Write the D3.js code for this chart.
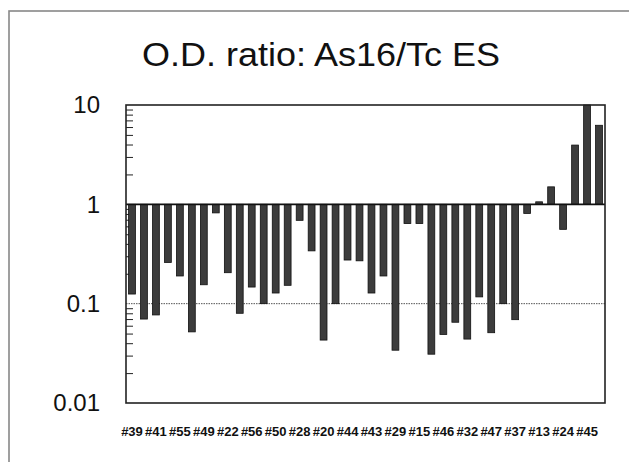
<!DOCTYPE html>
<html>
<head>
<meta charset="utf-8">
<script src="https://cdn.jsdelivr.net/npm/d3@7"></script>
<style>
  body { margin: 0; background: #fff; }
  text { font-family: Arial, "Liberation Sans", sans-serif; fill: #111; }
</style>
</head>
<body>
<div id="container"></div>
<script>
/* CONSTANTS AND GLOBALS */
const width = 629;
const height = 462;
const plot = { left: 126, right: 605, top: 105, bottom: 403 };

/* DATA */
const title = "O.D. ratio: As16/Tc ES";
// clone labels, shown under every other bar
const labels = ["#39", "#41", "#55", "#49", "#22", "#56", "#50", "#28", "#20", "#44",
                "#43", "#29", "#15", "#46", "#32", "#47", "#37", "#13", "#24", "#45"];
// O.D. ratio per bar, left to right
const ratios = [0.125, 0.070, 0.077, 0.26, 0.19, 0.052, 0.155, 0.82, 0.205, 0.080,
                0.147, 0.10, 0.128, 0.153, 0.69, 0.34, 0.043, 0.10, 0.275, 0.27,
                0.128, 0.19, 0.034, 0.64, 0.64, 0.031, 0.049, 0.065, 0.044, 0.117,
                0.051, 0.10, 0.069, 0.81, 1.06, 1.5, 0.56, 3.95, 10, 6.25];
const yTicks = [0.01, 0.1, 1, 10];

const svg = d3.select("#container")
  .append("svg")
  .attr("width", width)
  .attr("height", height)

// outer frame of the slide
svg.append("rect")
  .attr("x", 9).attr("y", 11)
  .attr("width", 640).attr("height", 480)
  .attr("fill", "none")
  .attr("stroke", "#888")
  .attr("stroke-width", 1.6)

svg.append("text")
  .attr("x", 321)
  .attr("y", 66)
  .attr("text-anchor", "middle")
  .attr("font-size", 33)
  .attr("textLength", 358)
  .attr("lengthAdjust", "spacingAndGlyphs")
  .text(title)

const xScale = d3.scaleBand()
  .domain(d3.range(ratios.length))
  .range([plot.left, plot.right])
  .paddingInner(0.43)
  .paddingOuter(0.215)

const yScale = d3.scaleLog()
  .domain([0.01, 10])
  .range([plot.bottom, plot.top])

// minor log ticks on the inside of the left axis
const minor = yScale.ticks().filter(v => !yTicks.includes(v))
svg.append("g")
  .attr("transform", `translate(${plot.left}, 0)`)
  .call(d3.axisRight(yScale).tickValues(minor).tickSize(7).tickFormat(""))
  .call(g => g.select(".domain").remove())
  .call(g => g.selectAll("line").attr("stroke", "#222"))

const yAxis = d3.axisLeft(yScale)
  .tickValues(yTicks)
  .tickSize(0)
  .tickPadding(26)
  .tickFormat(d => d3.format("~g")(d))
svg.append("g")
  .attr("transform", `translate(${plot.left}, 0)`)
  .call(yAxis)
  .call(g => g.select(".domain").remove())
  .call(g => g.selectAll("text")
    .attr("font-size", 24)
    .attr("font-family", "Arial, 'Liberation Sans', sans-serif")
    .attr("fill", "#111"))

// dotted reference line at 0.1
svg.append("line")
  .attr("x1", plot.left).attr("x2", plot.right)
  .attr("y1", yScale(0.1)).attr("y2", yScale(0.1))
  .attr("stroke", "#555")
  .attr("stroke-width", 1)
  .attr("stroke-dasharray", "1.5,1")

svg.selectAll(".bar")
  .data(ratios)
  .join("rect")
  .attr("class", "bar")
  .attr("x", (d, i) => xScale(i))
  .attr("y", d => yScale(Math.max(d, 1)))
  .attr("width", xScale.bandwidth())
  .attr("height", d => Math.abs(yScale(d) - yScale(1)))
  .attr("fill", "#3c3c3c")
  .attr("stroke", "#111")
  .attr("stroke-width", 0.8)

// baseline at ratio 1
svg.append("line")
  .attr("x1", plot.left).attr("x2", plot.right)
  .attr("y1", yScale(1)).attr("y2", yScale(1))
  .attr("stroke", "#111")
  .attr("stroke-width", 1.6)

// plot border
svg.append("rect")
  .attr("x", plot.left).attr("y", plot.top)
  .attr("width", plot.right - plot.left)
  .attr("height", plot.bottom - plot.top)
  .attr("fill", "none")
  .attr("stroke", "#222")
  .attr("stroke-width", 1.6)

const xAxis = d3.axisBottom(xScale)
  .tickValues(d3.range(0, ratios.length, 2))
  .tickSize(0)
  .tickPadding(0)
  .tickFormat(i => labels[i / 2])
svg.append("g")
  .attr("transform", `translate(0, 427)`)
  .call(xAxis)
  .call(g => g.select(".domain").remove())
  .call(g => g.selectAll("text")
    .attr("font-size", 13)
    .attr("font-weight", "bold")
    .attr("font-family", "Arial, 'Liberation Sans', sans-serif")
    .attr("fill", "#111")
    .attr("dy", "0.71em"))
</script>
</body>
</html>
